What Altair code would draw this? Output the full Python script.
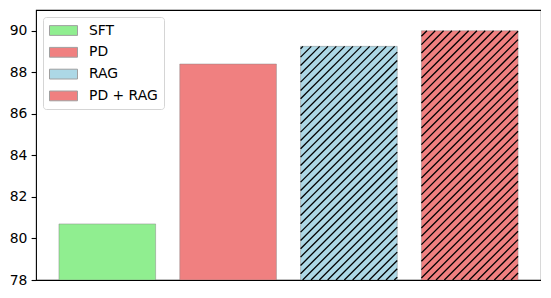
import altair as alt
import pandas as pd
import numpy as np

# ---- data ----
methods = ["SFT", "PD", "RAG", "PD + RAG"]
scores = [80.7, 88.4, 89.25, 90.0]
fills = ["#90ee90", "#f08080", "#add8e6", "#f08080"]
hatched = [False, False, True, True]
y_ticks = [78, 80, 82, 84, 86, 88, 90]

# ---- layout / style ----
W, H = 505, 270
Y0, Y1 = 78, 91
X0, X1 = -0.59, 3.59
BAR = 0.8
FONT = "DejaVu Sans"
FS = 13.9

df = pd.DataFrame({"method": methods, "score": scores, "hatched": hatched})
df["pos"] = np.arange(len(df))
df["left"] = df["pos"] - BAR / 2
df["right"] = df["pos"] + BAR / 2

# hatch '//' segments derived from each hatched bar's rectangle
px_x = W / (X1 - X0)
px_y = H / (Y1 - Y0)
spacing = 100 / 12
segs = []
for _, r in df[df["hatched"]].iterrows():
    xa0 = (r["left"] - X0) * px_x
    xa1 = (r["right"] - X0) * px_x
    top = (r["score"] - Y0) * px_y
    c = np.floor((xa0 - top) / spacing) * spacing
    while c <= xa1:
        xa = max(xa0, c)
        xb = min(xa1, c + top)
        if xb > xa:
            segs.append({
                "hx": xa / px_x + X0, "hy": (xa - c) / px_y + Y0,
                "hx2": xb / px_x + X0, "hy2": (xb - c) / px_y + Y0,
            })
        c += spacing
hatch_df = pd.DataFrame(segs)

xscale = alt.Scale(domain=[X0, X1], nice=False, zero=False)
yscale = alt.Scale(domain=[Y0, Y1], nice=False, zero=False)

bars = alt.Chart(df).mark_bar(
    clip=True, stroke="#808080", strokeWidth=1, strokeOpacity=0.45
).encode(
    x=alt.X("left:Q", scale=xscale, axis=None),
    x2="right:Q",
    y=alt.Y("score:Q", scale=yscale,
            axis=alt.Axis(values=y_ticks, title=None, grid=False, domain=False,
                          tickColor="black", tickSize=4.9, tickWidth=1.1,
                          labelFont=FONT, labelFontSize=FS, labelColor="black",
                          labelPadding=4.2)),
    y2=alt.Y2(datum=Y0),
    color=alt.Color("method:N",
                    scale=alt.Scale(domain=methods, range=fills),
                    sort=methods,
                    legend=alt.Legend(
                        title=None, orient="none", legendX=7, legendY=7,
                        symbolType="M-2,-0.7H2V0.7H-2Z", symbolSize=196,
                        symbolOffset=7,
                        symbolStrokeColor="#a0a0a0", symbolStrokeWidth=1,
                        symbolOpacity=1,
                        labelFont=FONT, labelFontSize=FS, labelColor="black",
                        labelOffset=18, rowPadding=6.8, padding=6,
                        fillColor="white", strokeColor="#d5d5d5",
                        cornerRadius=3, labelLimit=300)),
)

hatch = alt.Chart(hatch_df).mark_rule(
    color="black", strokeWidth=1.3, clip=True
).encode(
    x=alt.X("hx:Q", scale=xscale),
    y=alt.Y("hy:Q", scale=yscale),
    x2="hx2:Q",
    y2="hy2:Q",
)

chart = alt.layer(bars, hatch).properties(
    width=W, height=H,
    background="white",
    padding={"left": 1, "top": 2, "right": 0, "bottom": 0},
).configure_view(
    stroke="black", strokeWidth=1.1
)

chart.save("out.html", embed_options={"renderer": "svg", "actions": False})
